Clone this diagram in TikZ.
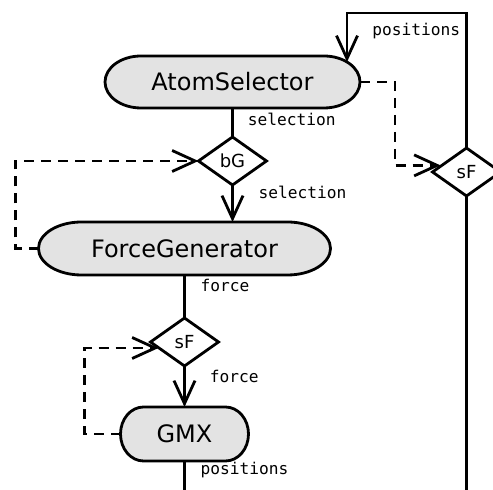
\documentclass[tikz,border=0pt]{standalone}
\usepackage{fontspec}
\setmainfont{DejaVu Sans}
\setmonofont{DejaVu Sans Mono}
\usepackage{tikz}
\usetikzlibrary{arrows.meta,calc,positioning,shapes.geometric}
\pgfdeclarelayer{background}
\pgfsetlayers{background,main}
\definecolor{BoxGray}{HTML}{E3E3E3}
\definecolor{FlowInk}{HTML}{000000}
\tikzset{
  >={Straight Barb[length=11.5pt,width=10.5pt]},
  flow/.style={->,line width=1.4pt,draw=FlowInk},
  plainflow/.style={line width=1.4pt,draw=FlowInk},
  dashedflow/.style={->,line width=1.4pt,dash pattern=on 5pt off 3.5pt,draw=FlowInk},
  pill/.style={rectangle,minimum height=26.5pt,inner sep=0pt,outer sep=0pt,
    font=\fontsize{12}{14}\selectfont},
  pillline/.style={draw=FlowInk,fill=BoxGray,line width=1.4pt},
  gate/.style={diamond,draw=FlowInk,fill=white,line width=1.4pt,
    minimum width=34pt,minimum height=24pt,inner sep=0pt,outer sep=0pt,
    font=\fontsize{9}{10}\selectfont},
  lbl/.style={anchor=west,inner sep=0pt,font=\ttfamily\fontsize{8.1}{10}\selectfont}
}
% outline with elliptic ends behind a pill node: name, x radius
\newcommand{\pillback}[2]{%
  \path let \p1=($(#1.north)-(#1.south)$) in
    [pillline] ($(#1.north west)+(#2,0)$) -- ($(#1.north east)+(-#2,0)$)
    arc[start angle=90,end angle=-90,x radius=#2,y radius=0.5*\y1]
    -- ($(#1.south west)+(#2,0)$)
    arc[start angle=270,end angle=90,x radius=#2,y radius=0.5*\y1] -- cycle;}

\begin{document}
\begin{tikzpicture}
    \useasboundingbox (0,0) rectangle (246.5pt,-245pt);
    \clip (0,0) rectangle (246.5pt,-245pt);

    \node[pill,minimum width=127.5pt,minimum height=26pt] (AtomSelector) at (116.25pt,-41pt) {AtomSelector};
    \node[gate,below=14.5pt of AtomSelector] (bG) {bG};
    \node[pill,minimum width=146pt,below=18.5pt of bG,xshift=-24pt] (ForceGenerator) {ForceGenerator};
    \node[gate,below=21.5pt of ForceGenerator] (sFmid) {sF};
    \node[pill,minimum width=64pt,minimum height=27pt,below=20.5pt of sFmid] (GMX) {GMX};
    \node[gate,right=83pt of bG,yshift=-5.5pt] (sFright) {sF};

    \begin{pgfonlayer}{background}
      \pillback{AtomSelector}{18pt}
      \pillback{ForceGenerator}{21.5pt}
      \pillback{GMX}{11.5pt}
    \end{pgfonlayer}

    \coordinate (loopL) at (173.5pt,-6.5pt);
    \coordinate (gmxOut) at (GMX.south |- 0,-245pt);
    \coordinate (sfOut) at (sFright.south |- 0,-245pt);

    \draw[plainflow] (AtomSelector.south) -- node[lbl,at start,xshift=7pt,yshift=-5.5pt] {selection} (bG.north);
    \draw[flow] (bG.south) -- node[lbl,at start,xshift=12.4pt,yshift=-3.5pt] {selection} (bG.south |- ForceGenerator.north);
    \draw[plainflow] (ForceGenerator.south) -- node[lbl,at start,xshift=7.4pt,yshift=-5pt] {force} (sFmid.north);
    \draw[flow] (sFmid.south) -- node[lbl,at start,xshift=12pt,yshift=-5pt] {force} (GMX.north);
    \draw[plainflow] (GMX.south) -- node[lbl,at start,xshift=7.4pt,yshift=-4.5pt] {positions} (gmxOut);

    \draw[plainflow] (sFright.south) -- (sfOut);
    \draw[flow] (sFright.north) |- (loopL) node[lbl,xshift=12pt,yshift=-9pt] {positions}
      -- ($(AtomSelector.east)+(-6.5pt,10pt)$);

    \draw[dashedflow] (AtomSelector.east) -- ++(17.5pt,0) |- ($(sFright.west)+(4pt,3.3pt)$);
    \draw[dashedflow] (ForceGenerator.west) -- ++(-11.5pt,0) |- (bG.west);
    \draw[dashedflow] (GMX.west) -- ++(-18pt,0) |- ($(sFmid.west)+(4pt,-3pt)$);
  \end{tikzpicture}
\end{document}
